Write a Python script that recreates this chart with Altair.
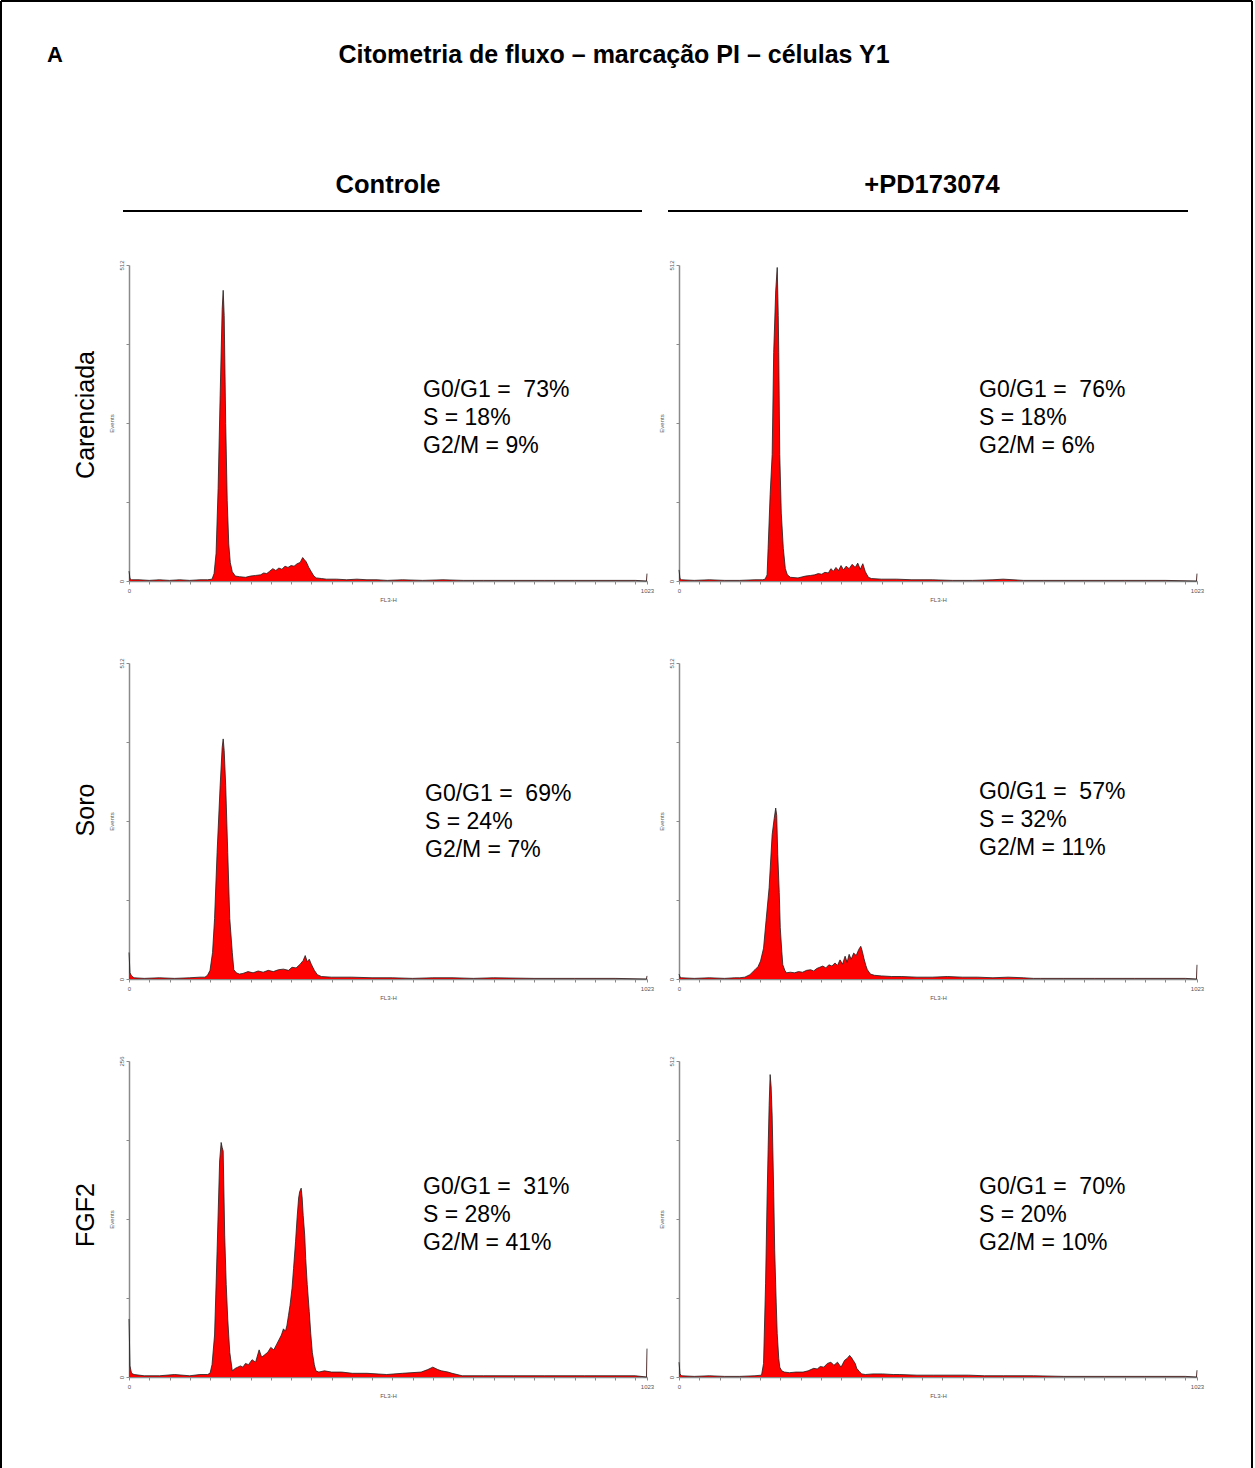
import altair as alt
import pandas as pd

# ---------------- text content ----------------
panel_letter = "A"
main_title = "Citometria de fluxo – marcação PI – células Y1"
col_headers = ["Controle", "+PD173074"]
row_labels = ["Carenciada", "Soro", "FGF2"]
x_title = "FL3-H"
y_title = "Events"

# percentages per panel: [G0/G1, S, G2/M]
pct_car_ctrl = [73, 18, 9]
pct_car_pd = [76, 18, 6]
pct_soro_ctrl = [69, 24, 7]
pct_soro_pd = [57, 32, 11]
pct_fgf_ctrl = [31, 28, 41]
pct_fgf_pd = [70, 20, 10]

# y-axis maxima (Events)
ymax_car_ctrl = 512
ymax_car_pd = 512
ymax_soro_ctrl = 512
ymax_soro_pd = 512
ymax_fgf_ctrl = 256
ymax_fgf_pd = 512

# ---------------- histogram outlines (channel, events) ----------------
car_ctrl_ch = [0, 2, 5, 20, 40, 60, 80, 100, 120, 140, 155, 164, 168, 172, 176, 180, 184, 186, 188, 191,
               194, 197, 200, 204, 210, 218, 230, 240, 250, 260, 266, 272, 278, 284, 290, 296, 302, 308, 314, 320,
               326, 332, 338, 343, 346, 350, 355, 360, 365, 370, 380, 390, 410, 430, 450, 470, 490, 510, 540, 580,
               620, 660, 700, 760, 820, 880, 940, 1000, 1022, 1023]
car_ctrl_ev = [16, 4, 2, 2, 1, 2, 1, 2, 1, 2, 2, 3, 12, 45, 150, 300, 440, 471, 430, 255,
               130, 60, 30, 15, 8, 7, 6, 8, 9, 10, 13, 12, 16, 20, 17, 21, 19, 24, 22, 25,
               24, 28, 30, 38, 35, 31, 22, 15, 8, 5, 4, 3, 3, 2, 3, 2, 2, 1, 2, 1,
               2, 1, 1, 1, 1, 1, 1, 1, 0, 12]

car_pd_ch = [0, 2, 5, 30, 60, 90, 120, 150, 165, 170, 174, 176, 180, 184, 187, 191, 194, 196, 197, 199,
             202, 206, 210, 214, 220, 235, 250, 260, 268, 275, 282, 288, 295, 300, 305, 310, 315, 320, 325, 330,
             336, 342, 348, 353, 358, 363, 368, 374, 380, 400, 430, 460, 500, 540, 580, 620, 640, 680, 720, 800,
             880, 960, 1022, 1023]
car_pd_ev = [18, 4, 2, 1, 2, 1, 1, 2, 2, 3, 10, 53, 140, 205, 370, 470, 508, 430, 370, 205,
             110, 53, 20, 10, 6, 5, 8, 9, 10, 12, 11, 14, 13, 20, 16, 22, 17, 25, 18, 24,
             20, 27, 22, 29, 19, 28, 15, 6, 4, 3, 3, 2, 2, 1, 1, 2, 3, 1, 1, 1,
             1, 1, 0, 12]

soro_ctrl_ch = [0, 2, 5, 10, 30, 60, 90, 120, 140, 150, 155, 160, 165, 169, 174, 180, 184, 186, 188, 191,
                195, 199, 204, 207, 212, 218, 225, 235, 245, 255, 265, 275, 285, 295, 305, 315, 322, 330, 338, 344,
                348, 352, 356, 360, 366, 372, 380, 400, 440, 480, 520, 560, 600, 640, 680, 720, 800, 880, 960, 1022,
                1023]
soro_ctrl_ev = [43, 10, 5, 2, 1, 2, 1, 2, 3, 3, 6, 14, 43, 98, 205, 313, 375, 389, 370, 313,
                205, 98, 43, 15, 10, 8, 9, 12, 10, 13, 11, 14, 12, 15, 16, 14, 19, 18, 24, 30,
                38, 28, 32, 24, 14, 7, 4, 3, 3, 2, 2, 1, 2, 2, 1, 2, 1, 1, 1, 0,
                5]

soro_pd_ch = [0, 2, 5, 30, 60, 90, 110, 120, 130, 140, 150, 156, 161, 167, 172, 178, 184, 188, 191, 193,
              195, 198, 200, 203, 205, 209, 212, 220, 228, 236, 244, 252, 260, 266, 272, 278, 284, 290, 296, 302,
              308, 313, 318, 323, 328, 332, 336, 340, 345, 350, 355, 359, 362, 365, 369, 372, 378, 386, 400, 420,
              440, 470, 500, 530, 560, 590, 620, 650, 680, 700, 714, 760, 820, 900, 1000, 1022, 1023]
soro_pd_ev = [8, 3, 2, 1, 2, 1, 2, 2, 3, 7, 15, 20, 29, 50, 95, 148, 234, 260, 277, 265,
              202, 140, 83, 45, 23, 14, 10, 11, 10, 12, 11, 14, 15, 13, 17, 19, 21, 18, 23, 21,
              26, 22, 31, 24, 37, 27, 40, 32, 42, 38, 48, 53, 45, 34, 22, 15, 8, 6, 5, 4,
              4, 3, 3, 4, 3, 3, 2, 3, 2, 1, 1, 1, 1, 1, 1, 0, 23]

fgf_ctrl_ch = [0, 2, 5, 10, 30, 60, 90, 120, 140, 155, 160, 164, 169, 174, 179, 182, 184, 186, 189, 192,
               195, 199, 204, 210, 215, 220, 225, 230, 236, 243, 250, 257, 262, 268, 274, 280, 286, 291, 296, 301,
               305, 309, 312, 315, 318, 322, 325, 329, 332, 335, 337, 340, 342, 344, 347, 349, 352, 356, 359, 362,
               366, 369, 375, 386, 400, 420, 441, 470, 509, 540, 577, 590, 600, 610, 617, 630, 638, 658, 700, 760,
               820, 900, 1000, 1022, 1023]
fgf_ctrl_ev = [47, 9, 3, 2, 1, 1, 2, 1, 2, 2, 3, 10, 34, 102, 175, 190, 186, 183, 115, 75,
               47, 20, 5, 7, 8, 9, 8, 11, 10, 14, 12, 22, 16, 18, 20, 24, 22, 26, 30, 34,
               39, 37, 42, 50, 58, 72, 88, 110, 129, 145, 150, 153, 145, 131, 115, 96, 75, 53, 35, 20,
               10, 5, 4, 5, 4, 4, 3, 3, 2, 3, 4, 6, 8, 6, 5, 4, 3, 1, 1, 1,
               1, 1, 1, 0, 23]

fgf_pd_ch = [0, 2, 5, 30, 60, 90, 120, 150, 163, 167, 171, 174, 176, 178, 180, 182, 184, 187, 189, 192,
             194, 197, 199, 203, 208, 218, 231, 245, 255, 266, 273, 279, 286, 293, 300, 306, 313, 320, 327, 332,
             337, 341, 344, 348, 351, 356, 361, 368, 383, 402, 423, 436, 470, 503, 543, 572, 603, 641, 700, 760,
             840, 920, 1000, 1022, 1023]
fgf_pd_ev = [24, 5, 2, 1, 2, 1, 1, 2, 3, 22, 152, 290, 368, 440, 490, 470, 423, 300, 206, 120,
             70, 30, 16, 10, 8, 7, 8, 8, 10, 14, 13, 17, 16, 22, 24, 19, 24, 16, 27, 30,
             35, 31, 27, 22, 14, 9, 5, 4, 5, 5, 4, 4, 3, 3, 3, 3, 2, 2, 2, 1,
             1, 1, 1, 0, 11]

x_tick_values = list(range(0, 1001, 40)) + [1023]

FONT = "Liberation Sans"
AXIS_GRAY = "#8a8a8a"
LABEL_GRAY = "#555555"
NBSP = "\u00a0"


def one_row():
    return pd.DataFrame({"k": [0]})


def pct_text(p):
    return f"G0/G1 ={NBSP} {p[0]}%\nS = {p[1]}%\nG2/M = {p[2]}%"


def panel(ch, ev, ymax, pct, text_x, text_y, row_label=None, row_label_y=150, extra=None):
    assert len(ch) == len(ev)
    df = pd.DataFrame({"ch": ch, "ev": ev})
    x = alt.X(
        "ch:Q",
        scale=alt.Scale(domain=[0, 1023], nice=False, zero=False),
        axis=alt.Axis(
            values=x_tick_values, format="d",
            labelExpr="datum.value == 0 || datum.value == 1023 ? datum.label : ''",
            labelFontSize=6, labelColor=LABEL_GRAY, labelFlush=False, labelPadding=3,
            tickSize=3, tickColor=AXIS_GRAY, tickWidth=1,
            domainColor=AXIS_GRAY, domainWidth=1.5, grid=False,
            title=x_title, titleFontSize=6, titleFontWeight="normal",
            titleColor=LABEL_GRAY, titlePadding=3,
        ),
    )
    y = alt.Y(
        "ev:Q",
        scale=alt.Scale(domain=[0, ymax], nice=False, zero=True),
        axis=alt.Axis(
            values=[0, ymax / 4, ymax / 2, 3 * ymax / 4, ymax], format="d",
            labelExpr=f"datum.value == 0 || datum.value == {ymax} ? datum.label : ''",
            labelFontSize=6, labelColor=LABEL_GRAY, labelAngle=270,
            labelAlign="center", labelBaseline="bottom", labelPadding=2,
            tickSize=3, tickColor=AXIS_GRAY, tickWidth=1,
            domainColor=AXIS_GRAY, domainWidth=1.5, grid=False,
            title=y_title, titleFontSize=6, titleFontWeight="normal",
            titleColor=LABEL_GRAY, titlePadding=4,
        ),
    )
    base = alt.Chart(df).encode(x=x, y=y)
    area = base.mark_area(color="#ff0000", interpolate="linear")
    line = base.mark_line(color="#1e1e1e", strokeWidth=0.8, interpolate="linear")
    txt = alt.Chart(pd.DataFrame({"t": [pct_text(pct)]})).mark_text(
        align="left", baseline="alphabetic", font=FONT, fontSize=23,
        lineBreak="\n", lineHeight=28, color="black",
    ).encode(x=alt.value(text_x), y=alt.value(text_y), text="t:N")
    layers = [area, line, txt]
    if row_label is not None:
        layers.append(
            alt.Chart(pd.DataFrame({"t": [row_label]})).mark_text(
                angle=270, align="center", baseline="middle", font=FONT, fontSize=25, color="black"
            ).encode(x=alt.value(-43), y=alt.value(row_label_y), text="t:N")
        )
    if extra:
        layers.extend(extra)
    return alt.layer(*layers).properties(width=518, height=316)


# decorations drawn relative to the top-left panel
def deco_text(t, x, y, size, weight, align="center"):
    return alt.Chart(pd.DataFrame({"t": [t]})).mark_text(
        align=align, baseline="middle", font=FONT, fontSize=size, fontWeight=weight, color="black"
    ).encode(x=alt.value(x), y=alt.value(y), text="t:N")


def deco_hline(x1, x2, y, w):
    return alt.Chart(one_row()).mark_rule(color="black", strokeWidth=w).encode(
        x=alt.value(x1), x2=alt.value(x2), y=alt.value(y)
    )


def deco_vline(x, y1, y2, w):
    return alt.Chart(one_row()).mark_rule(color="black", strokeWidth=w).encode(
        x=alt.value(x), y=alt.value(y1), y2=alt.value(y2)
    )


decorations = [
    deco_vline(-128, -264, 1215, 2),
    deco_vline(1123, -264, 1215, 2),
    deco_hline(-128, 1123, -264, 2),
    deco_text(panel_letter, -82, -210, 22, "bold", align="left"),
    deco_text(main_title, 485, -210, 25, "bold"),
    deco_text(col_headers[0], 259, -80, 25.5, "bold"),
    deco_text(col_headers[1], 803, -80, 25.5, "bold"),
    deco_hline(-6, 513, -54, 1.8),
    deco_hline(539, 1059, -54, 1.8),
]

panels = [
    panel(car_ctrl_ch, car_ctrl_ev, ymax_car_ctrl, pct_car_ctrl, 294, 132,
          row_label=row_labels[0], row_label_y=150, extra=decorations),
    panel(car_pd_ch, car_pd_ev, ymax_car_pd, pct_car_pd, 300, 132),
    panel(soro_ctrl_ch, soro_ctrl_ev, ymax_soro_ctrl, pct_soro_ctrl, 296, 138,
          row_label=row_labels[1], row_label_y=147),
    panel(soro_pd_ch, soro_pd_ev, ymax_soro_pd, pct_soro_pd, 300, 136),
    panel(fgf_ctrl_ch, fgf_ctrl_ev, ymax_fgf_ctrl, pct_fgf_ctrl, 294, 133,
          row_label=row_labels[2], row_label_y=154),
    panel(fgf_pd_ch, fgf_pd_ev, ymax_fgf_pd, pct_fgf_pd, 300, 133),
]

chart = alt.concat(
    *panels, columns=2, spacing={"row": 82, "column": 32}, bounds="flush"
).properties(
    padding=0, background="white"
).configure_view(
    stroke=None
).configure_axis(
    labelFont=FONT, titleFont=FONT
)

chart.save("out.html", embed_options={"renderer": "svg", "actions": False})
